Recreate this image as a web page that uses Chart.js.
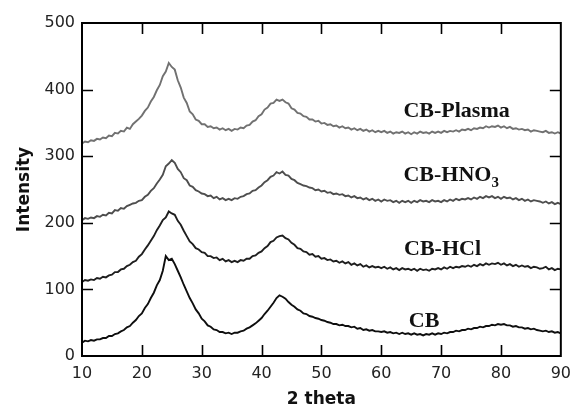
<!DOCTYPE html>
<html>
<head>
<meta charset="utf-8">
<script src="https://cdn.jsdelivr.net/npm/chart.js@4"></script>
<style>
html,body{margin:0;padding:0;background:#fff;}
#wrap{width:579px;height:410px;position:relative;}
</style>
</head>
<body>
<div id="wrap"><canvas id="c" width="579" height="410"></canvas></div>
<script>
// two-theta sampling grid (degrees)
const twoTheta = [
10,10.5,11,11.5,12,12.5,13,13.5,14,14.5,
15,15.5,16,16.5,17,17.5,18,18.5,19,19.5,
20,20.5,21,21.5,22,22.5,23,23.5,24,24.5,
25,25.5,26,26.5,27,27.5,28,28.5,29,29.5,
30,30.5,31,31.5,32,32.5,33,33.5,34,34.5,
35,35.5,36,36.5,37,37.5,38,38.5,39,39.5,
40,40.5,41,41.5,42,42.5,43,43.5,44,44.5,
45,45.5,46,46.5,47,47.5,48,48.5,49,49.5,
50,50.5,51,51.5,52,52.5,53,53.5,54,54.5,
55,55.5,56,56.5,57,57.5,58,58.5,59,59.5,
60,60.5,61,61.5,62,62.5,63,63.5,64,64.5,
65,65.5,66,66.5,67,67.5,68,68.5,69,69.5,
70,70.5,71,71.5,72,72.5,73,73.5,74,74.5,
75,75.5,76,76.5,77,77.5,78,78.5,79,79.5,
80,80.5,81,81.5,82,82.5,83,83.5,84,84.5,
85,85.5,86,86.5,87,87.5,88,88.5,89,89.5,
90];

const cbPlasma = [
319,322,321,324,323,326,325,328,327,331,
330,335,334,338,337,343,341,348,352,356,
361,368,373,382,389,399,407,420,427,440,
434,430,414,403,388,380,367,363,355,353,
348,348,344,345,342,343,340,342,339,341,
338,341,340,343,342,346,347,352,354,360,
363,370,373,379,380,385,383,385,381,379,
372,370,365,364,360,359,355,355,352,353,
349,350,347,348,345,346,343,345,342,343,
340,342,339,341,338,340,337,339,336,338,
336,338,335,337,334,336,335,337,334,336,
333,336,334,337,335,336,334,337,335,337,
335,338,336,338,337,339,337,340,339,341,
339,342,341,343,342,345,343,345,344,346,
343,345,342,344,341,342,340,341,339,340,
337,339,338,337,336,338,335,336,334,336,
334];

const cbHNO3 = [
204,207,206,208,207,210,209,212,211,215,
214,219,218,222,221,225,227,229,230,233,
234,239,242,248,252,259,265,272,285,289,
294,290,281,276,267,264,256,254,249,247,
244,243,240,241,237,239,235,237,234,236,
234,237,236,239,240,243,244,248,249,253,
256,261,264,269,271,276,274,277,272,271,
266,264,260,258,256,255,253,252,249,250,
247,248,245,246,243,244,242,243,240,241,
238,240,237,238,235,237,234,236,233,235,
232,235,233,234,231,233,230,233,231,233,
230,233,231,234,232,233,231,234,232,233,
231,234,232,235,233,236,234,236,235,237,
235,238,236,239,237,240,238,240,237,239,
236,239,237,238,235,237,234,236,233,235,
232,234,233,232,230,232,229,231,228,230,
228];

const cbHCl = [
111,114,113,115,114,117,116,119,118,121,
122,126,126,130,131,135,137,141,143,149,
153,160,166,173,180,189,196,204,208,217,
214,212,203,197,188,180,172,168,162,160,
156,155,150,150,147,148,144,146,142,144,
141,143,141,144,143,146,146,150,151,155,
157,162,165,171,173,178,180,181,177,175,
170,167,162,161,157,156,152,153,149,150,
146,147,144,145,142,143,140,142,139,141,
137,139,136,138,134,136,133,135,133,134,
132,134,131,133,130,132,129,132,130,131,
129,131,128,131,129,130,128,131,130,132,
130,133,131,134,132,134,133,135,134,136,
134,137,135,138,136,139,137,139,138,140,
137,139,136,138,135,137,134,136,134,135,
132,134,133,131,132,134,130,132,129,131,
130];

const cb = [
20,23,22,24,23,25,25,27,27,30,
30,33,34,37,39,43,45,50,54,60,
64,72,78,87,95,106,114,128,150,144,
146,138,128,118,107,97,87,79,70,64,
56,52,46,44,40,39,36,36,34,35,
33,35,35,37,38,41,43,46,49,53,
57,63,68,74,80,87,91,89,86,81,
77,74,70,68,64,63,60,59,57,56,
54,53,51,50,48,48,46,47,45,45,
43,44,41,42,39,40,38,39,37,37,
36,37,35,36,34,35,33,35,33,34,
32,34,32,33,31,33,32,34,32,34,
33,35,34,36,36,38,37,39,39,41,
40,42,42,44,43,45,45,47,46,48,
47,48,46,46,44,45,43,43,41,42,
40,41,39,38,37,38,36,37,35,36,
34];

const xTickValues = [10,20,30,40,50,60,70,80,90];
const yTickValues = [0,100,200,300,400,500];
const seriesNames = ['CB-Plasma','CB-HNO3','CB-HCl','CB'];

function pts(arr){ return arr.map((v,i)=>({x:twoTheta[i], y:v})); }

const labelPlugin = {
  id:'frameAndLabels',
  afterDatasetsDraw(chart){
    const {ctx, chartArea:a, scales:{x,y}} = chart;
    ctx.save();
    ctx.strokeStyle='#000';
    ctx.lineWidth=2;
    ctx.strokeRect(a.left, a.top, a.right-a.left, a.bottom-a.top);
    ctx.lineWidth=1.6;
    const tl=11;
    xTickValues.slice(1,-1).forEach(t=>{
      const px=Math.round(x.getPixelForValue(t))+0.5;
      ctx.beginPath();
      ctx.moveTo(px,a.bottom); ctx.lineTo(px,a.bottom-tl);
      ctx.moveTo(px,a.top); ctx.lineTo(px,a.top+tl);
      ctx.stroke();
    });
    yTickValues.slice(1,-1).forEach(t=>{
      const py=Math.round(y.getPixelForValue(t))+0.5;
      ctx.beginPath();
      ctx.moveTo(a.left,py); ctx.lineTo(a.left+tl,py);
      ctx.moveTo(a.right,py); ctx.lineTo(a.right-tl,py);
      ctx.stroke();
    });
    // series labels
    ctx.fillStyle='#111';
    ctx.textAlign='left';
    ctx.textBaseline='alphabetic';
    const big='bold 22px "Liberation Serif", "Times New Roman", serif';
    const small='bold 15px "Liberation Serif", "Times New Roman", serif';
    const lab=[
      {t:'CB-Plasma', x:63.7, y:359},
      {t:'CB-HNO', sub:'3', x:63.7, y:263},
      {t:'CB-HCl', x:63.8, y:152},
      {t:'CB', x:64.6, y:44}
    ];
    lab.forEach(l=>{
      const px=x.getPixelForValue(l.x), py=y.getPixelForValue(l.y);
      ctx.font=big;
      ctx.fillText(l.t, px, py);
      if(l.sub){
        const w=ctx.measureText(l.t).width;
        ctx.font=small;
        ctx.fillText(l.sub, px+w, py+6);
      }
    });
    ctx.restore();
  }
};

new Chart(document.getElementById('c'), {
  type:'line',
  data:{
    datasets:[
      {label:seriesNames[0], data:pts(cbPlasma), borderColor:'#717171', borderWidth:1.9},
      {label:seriesNames[1], data:pts(cbHNO3), borderColor:'#4e4e4e', borderWidth:1.9},
      {label:seriesNames[2], data:pts(cbHCl), borderColor:'#1e1e1e', borderWidth:1.9},
      {label:seriesNames[3], data:pts(cb), borderColor:'#0e0e0e', borderWidth:1.9}
    ]
  },
  options:{
    responsive:false,
    animation:false,
    events:[],
    elements:{point:{radius:0}, line:{tension:0}},
    layout:{padding:{left:0, top:23, right:13, bottom:0}},
    plugins:{legend:{display:false}, tooltip:{enabled:false}},
    scales:{
      x:{
        type:'linear', min:10, max:90,
        afterBuildTicks:s=>{ s.ticks = xTickValues.map(v=>({value:v})); },
        afterFit:s=>{ s.height=54; },
        grid:{display:false, drawTicks:false},
        border:{display:false},
        ticks:{padding:8, color:'#222', font:{family:'"DejaVu Sans", sans-serif', size:16}, maxRotation:0},
        title:{display:true, text:'2 theta', color:'#111', font:{family:'"DejaVu Sans", sans-serif', size:17, weight:'bold'}, padding:{top:0,bottom:0}}
      },
      y:{
        type:'linear', min:0, max:500,
        afterBuildTicks:s=>{ s.ticks = yTickValues.map(v=>({value:v})); },
        afterFit:s=>{ s.width=82; },
        grid:{display:false, drawTicks:false},
        border:{display:false},
        ticks:{padding:7, color:'#222', font:{family:'"DejaVu Sans", sans-serif', size:16}},
        title:{display:true, text:'Intensity', color:'#111', font:{family:'"DejaVu Sans", sans-serif', size:17, weight:'bold'}, padding:{top:14,bottom:0}}
      }
    }
  },
  plugins:[labelPlugin]
});
</script>
</body>
</html>
